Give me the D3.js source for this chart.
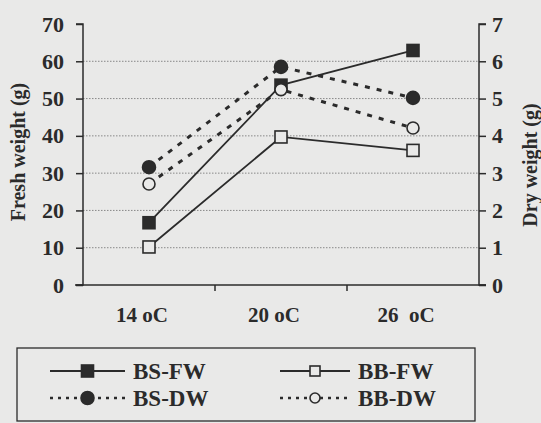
<!DOCTYPE html>
<html><head><meta charset="utf-8">
<script src="https://cdn.jsdelivr.net/npm/d3@7"></script>
<style>body{margin:0;background:#e9e9e8}svg{display:block}</style>
</head><body>
<svg id="c" width="541" height="423"></svg>
<script>
const categories = ["14 oC", "20 oC", "26  oC"];
const leftTicks = [0,10,20,30,40,50,60,70];
const rightTicks = [0,1,2,3,4,5,6,7];
const bsFW = [16.7, 53.6, 62.9];
const bbFW = [10.2, 39.7, 36.1];
const bsDW = [3.16, 5.85, 5.02];
const bbDW = [2.71, 5.24, 4.21];

const ink = "#2b2b2b", bg = "#e9e9e8";
const svg = d3.select("#c");
const L = 83, R = 479, T = 24, B = 285;
const x = d3.scaleBand().domain(categories).range([L, R]);
const yL = d3.scaleLinear().domain([0,70]).range([B, T]);
const yR = d3.scaleLinear().domain([0,7]).range([B, T]);
const font = "'Liberation Serif','Times New Roman',serif";

// gridlines
svg.append("g").selectAll("line").data(leftTicks.filter(d=>d>0&&d<70)).join("line")
  .attr("x1", L).attr("x2", R).attr("y1", d=>yL(d)).attr("y2", d=>yL(d))
  .attr("stroke", "#888").attr("stroke-width", 1).attr("stroke-dasharray", "1.5,1.5");

// axes
const ax = svg.append("g");
const gl = ax.append("g").attr("transform", `translate(${L},0)`)
  .call(d3.axisLeft(yL).tickValues(leftTicks).tickSize(7).tickPadding(12).tickFormat(d3.format("d")));
const gr = ax.append("g").attr("transform", `translate(${R},0)`)
  .call(d3.axisRight(yR).tickValues(rightTicks).tickSize(7).tickPadding(6).tickFormat(d3.format("d")));
const gx = ax.append("g").attr("transform", `translate(0,${B})`)
  .call(d3.axisBottom(x).tickSize(0).tickFormat(""));
[gl, gr, gx].forEach(g => {
  g.attr("font-family", font).attr("font-size", 22).attr("font-weight", "bold");
  g.select(".domain").attr("stroke", ink).attr("stroke-width", 1.5);
  g.selectAll(".tick line").attr("stroke", ink).attr("stroke-width", 1.5);
  g.selectAll("text").attr("fill", ink);
});
gl.select(".domain").attr("d", `M-7,${T}H0V${B}H-7`);
gr.select(".domain").attr("d", `M7,${T}H0V${B}H7`);
gx.select(".domain").attr("d", `M${L-8},0H${R+7}`);
// category boundary ticks
svg.append("g").selectAll("line").data(categories.slice(1)).join("line")
  .attr("x1", d=>x(d)).attr("x2", d=>x(d)).attr("y1", B).attr("y2", B+6)
  .attr("stroke", ink).attr("stroke-width", 1.5);
// category labels
svg.append("g").selectAll("text").data(categories).join("text")
  .attr("x", d=>x(d)+x.bandwidth()/2-7).attr("y", 322).attr("text-anchor", "middle")
  .attr("fill", ink).attr("font-family", font).attr("font-size", 21)
  .attr("font-weight", "bold").style("white-space", "pre").text(d=>d);

// axis titles
svg.append("text").attr("transform", "translate(25,152) rotate(-90)").attr("text-anchor", "middle")
  .attr("fill", ink).attr("font-family", font).attr("font-size", 20).attr("font-weight", "bold")
  .text("Fresh weight (g)");
svg.append("text").attr("transform", "translate(537,165) rotate(-90)").attr("text-anchor", "middle")
  .attr("fill", ink).attr("font-family", font).attr("font-size", 20).attr("font-weight", "bold")
  .text("Dry weight (g)");

const cx = d => x(d) + x.bandwidth()/2;
const series = [
  {name:"BS-FW", vals:bsFW, y:yL, dash:null, shape:"square", filled:true, col:0, row:0},
  {name:"BB-FW", vals:bbFW, y:yL, dash:null, shape:"square", filled:false, col:1, row:0},
  {name:"BS-DW", vals:bsDW, y:yR, dash:"5,7", shape:"circle", filled:true, col:0, row:1},
  {name:"BB-DW", vals:bbDW, y:yR, dash:"5,7", shape:"circle", filled:false, col:1, row:1}
];
function marker(g, shape, filled, px, py, sz) {
  if (shape === "square") {
    g.append("rect").attr("x", px-sz/2).attr("y", py-sz/2).attr("width", sz).attr("height", sz)
      .attr("fill", filled ? ink : bg).attr("stroke", ink).attr("stroke-width", 1.6);
  } else {
    g.append("circle").attr("cx", px).attr("cy", py).attr("r", filled ? sz/2+0.5 : sz/2)
      .attr("fill", filled ? ink : bg).attr("stroke", ink).attr("stroke-width", 1.6);
  }
}
series.forEach(s => {
  const g = svg.append("g");
  const line = d3.line().x((d,i)=>cx(categories[i])).y(d=>s.y(d));
  g.append("path").datum(s.vals).attr("d", line).attr("fill", "none")
    .attr("stroke", ink).attr("stroke-width", s.dash ? 3 : 1.8)
    .attr("stroke-dasharray", s.dash);
  s.vals.forEach((v,i) => marker(g, s.shape, s.filled, cx(categories[i]), s.y(v), 12));
});

// legend
const lg = svg.append("g");
lg.append("rect").attr("x", 17).attr("y", 348).attr("width", 458).attr("height", 73)
  .attr("fill", "none").attr("stroke", ink).attr("stroke-width", 1.3);
series.forEach(s => {
  const sx = s.col ? 280 : 50, sy = s.row ? 398 : 371;
  const len = s.col ? 70 : 75;
  lg.append("line").attr("x1", sx).attr("x2", sx+len).attr("y1", sy).attr("y2", sy)
    .attr("stroke", ink).attr("stroke-width", s.dash ? 2.6 : 1.8).attr("stroke-dasharray", s.dash ? "3,5" : null);
  marker(lg, s.shape, s.filled, sx + len/2, sy, s.filled ? 12 : 10);
  lg.append("text").attr("x", sx + len + 8).attr("y", sy + 8).attr("fill", ink)
    .attr("font-family", font).attr("font-size", 23).attr("font-weight", "bold").text(s.name);
});
</script>
</body></html>
